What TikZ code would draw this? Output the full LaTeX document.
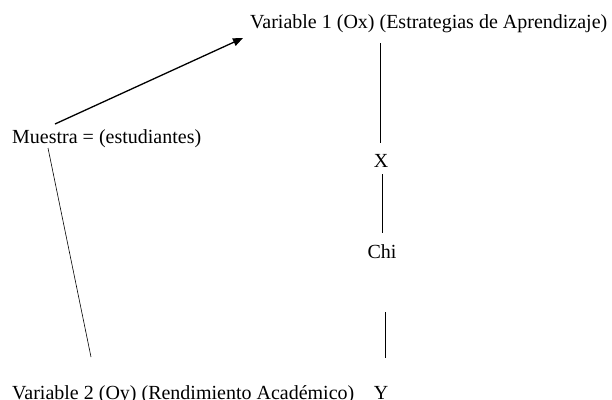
\documentclass[tikz,border=0pt]{standalone}
\usepackage{fontspec}
\setmainfont{Liberation Serif}
\usepackage{tikz}
\usetikzlibrary{arrows.meta}

\begin{document}
\begin{tikzpicture}[x=1pt,y=-1pt,
  txt/.style={inner sep=0pt,font=\fontsize{20}{24}\selectfont},
  lnk/.style={line width=0.6pt},
  pfeil/.style={line width=1.3pt,-{Triangle[length=10pt,width=8pt]}}]
  \useasboundingbox (0,0) rectangle (612,399);

  % Texte
  \node[txt,anchor=base west] (var1) at (250,28) {Variable 1 (Ox) (Estrategias de Aprendizaje)};
  \node[txt,anchor=base west] (muestra) at (12,143) {Muestra = (estudiantes)};
  \node[txt,anchor=base] (xv) at (381,167) {X};
  \node[txt,anchor=base] (chi) at (382,258) {Chi};
  \node[txt,anchor=base west] (var2) at (12,399) {Variable 2 (Oy) (Rendimiento Académico)};
  \node[txt,anchor=base] (yv) at (381,399) {Y};

  % Linien
  \draw[pfeil] ([xshift=43pt,yshift=19pt]muestra.base west) -- ([xshift=-7pt,yshift=-10pt]var1.base west);
  \draw[lnk] ([xshift=36pt,yshift=-5pt]muestra.base west) -- ([xshift=79pt,yshift=42pt]var2.base west);
  \draw[lnk] ([xshift=130pt,yshift=-15pt]var1.base west) -- ([xshift=-1pt,yshift=24pt]xv.base);
  \draw[lnk] ([xshift=1pt,yshift=-7pt]xv.base) -- ([yshift=25pt]chi.base);
  \draw[lnk] ([xshift=3pt,yshift=-54pt]chi.base) -- ([xshift=4pt,yshift=41pt]yv.base);

\end{tikzpicture}
\end{document}
